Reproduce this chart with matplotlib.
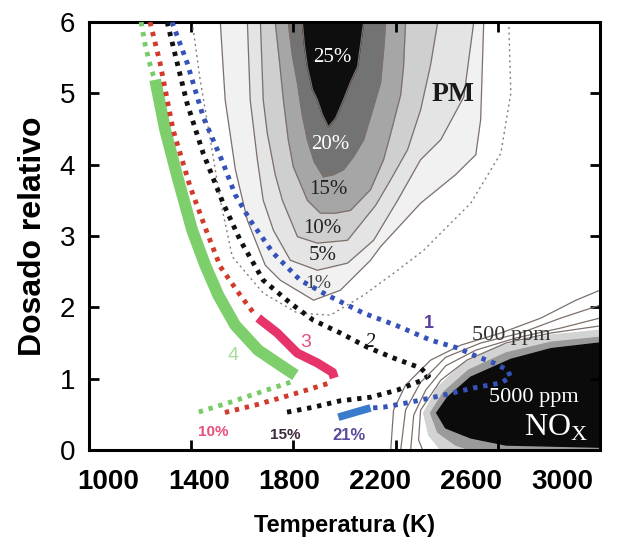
import numpy as np
import matplotlib.pyplot as plt

plt.rcParams['font.family'] = ['Liberation Sans', 'DejaVu Sans']

# --- contornos de PM (T en K, dosado relativo), abiertos por arriba (phi = 6)
pm1_T = [1514, 1533, 1573, 1620, 1690, 1749, 1879, 1984, 2102, 2141, 2298, 2435, 2514, 2533, 2545]
pm1_phi = [6.0, 4.91, 3.93, 3.22, 2.59, 2.38, 2.10, 2.24, 2.66, 2.85, 3.46, 3.86, 4.14, 4.63, 6.0]
pm5_T = [1620, 1631, 1659, 1682, 1722, 1788, 1894, 2012, 2114, 2208, 2298, 2377, 2467, 2506]
pm5_phi = [6.0, 4.91, 4.07, 3.50, 3.08, 2.66, 2.52, 2.62, 2.94, 3.50, 4.07, 4.35, 4.95, 6.0]
pm10_T = [1671, 1682, 1698, 1729, 1757, 1816, 1894, 2012, 2122, 2181, 2247, 2298, 2337, 2365]
pm10_phi = [6.0, 4.91, 4.44, 3.86, 3.50, 2.99, 2.90, 2.94, 3.43, 3.79, 4.21, 4.77, 5.40, 6.0]
pm15_T = [1729, 1745, 1761, 1780, 1800, 1855, 1906, 1965, 2024, 2102, 2153, 2181, 2220, 2231, 2239]
pm15_phi = [6.0, 5.47, 4.91, 4.35, 3.97, 3.50, 3.32, 3.32, 3.36, 3.65, 4.07, 4.44, 4.98, 5.37, 6.0]
pm20_T = [1780, 1796, 1816, 1835, 1855, 1882, 1918, 1957, 1996, 2035, 2075, 2110, 2141, 2153, 2161]
pm20_phi = [6.0, 5.54, 5.15, 4.70, 4.35, 4.04, 3.83, 3.86, 3.93, 4.11, 4.35, 4.77, 5.15, 5.61, 6.0]
pm25_T = [1835, 1843, 1855, 1875, 1894, 1914, 1937, 1965, 1996, 2024, 2051, 2063, 2075]
pm25_phi = [6.0, 5.68, 5.37, 5.05, 4.91, 4.70, 4.53, 4.65, 4.91, 5.16, 5.37, 5.68, 6.0]
pm_out_T = [1404, 1435, 1475, 1514, 1561, 1682, 1816, 1945, 2075, 2208, 2310, 2494, 2612, 2651, 2643]
pm_out_phi = [6.0, 5.19, 4.35, 3.50, 2.71, 2.20, 1.92, 1.89, 2.17, 2.52, 2.80, 3.46, 4.16, 5.0, 6.0]

# --- NOx
nox_light_T = [3000, 2808, 2612, 2463, 2365, 2310, 2330, 2377, 3000]
nox_light_phi = [1.68, 1.61, 1.46, 1.21, 0.88, 0.52, 0.21, 0.0, 0.0]
nox_mid_T = [3000, 2808, 2632, 2486, 2388, 2337, 2365, 2435, 2494, 3000]
nox_mid_phi = [1.58, 1.51, 1.36, 1.12, 0.81, 0.52, 0.25, 0.07, 0.0, 0.0]
nox_black_T = [3000, 2808, 2651, 2494, 2404, 2361, 2396, 2494, 2632, 3000]
nox_black_phi = [1.50, 1.42, 1.27, 1.02, 0.74, 0.52, 0.31, 0.17, 0.07, 0.04]
nox_lines = [
    ([3000, 2906, 2769, 2612, 2455, 2337, 2239, 2192, 2181],
     [2.24, 2.10, 1.85, 1.64, 1.47, 1.26, 0.91, 0.56, 0.0]),
    ([3000, 2847, 2690, 2533, 2396, 2298, 2239, 2220],
     [2.03, 1.85, 1.64, 1.50, 1.30, 0.95, 0.56, 0.0]),
    ([3000, 2847, 2671, 2514, 2396, 2318, 2271, 2259],
     [1.85, 1.71, 1.57, 1.40, 1.18, 0.84, 0.49, 0.0]),
    ([3000, 2808, 2632, 2479, 2377, 2298, 2290, 2306],
     [1.74, 1.64, 1.50, 1.26, 0.98, 0.56, 0.14, 0.0]),
]

# --- trayectorias
g_dot1_T = [1204, 1220, 1239, 1251, 1259]
g_dot1_phi = [6.0, 5.68, 5.40, 5.26, 5.19]
g_sol_T = [1259, 1298, 1349, 1404, 1455, 1506, 1572, 1662, 1749, 1808]
g_sol_phi = [5.19, 4.49, 3.79, 3.08, 2.59, 2.17, 1.75, 1.40, 1.19, 1.05]
g_dot2_T = [1788, 1670, 1553, 1427]
g_dot2_phi = [0.95, 0.81, 0.67, 0.53]

r_dot1_T = [1239, 1278, 1329, 1396, 1463, 1514, 1592, 1651]
r_dot1_phi = [6.0, 5.43, 4.49, 3.69, 3.04, 2.57, 2.17, 1.89]
r_sol_T = [1662, 1737, 1815, 1894, 1953, 1960]
r_sol_phi = [1.85, 1.64, 1.36, 1.22, 1.09, 1.01]
r_dot2_T = [1933, 1788, 1651, 1525]
r_dot2_phi = [0.93, 0.77, 0.63, 0.52]

k_T = [1306, 1384, 1447, 1525, 1592, 1682, 1788, 1878, 1984, 2090, 2192, 2298, 2329,
       2298, 2207, 2102, 1984, 1878, 1760]
k_phi = [6.0, 4.86, 4.16, 3.46, 2.94, 2.38, 2.06, 1.82, 1.64, 1.44, 1.29, 1.15, 1.04,
         0.97, 0.84, 0.74, 0.69, 0.60, 0.52]

b_dot_T = [1325, 1384, 1447, 1525, 1572, 1631, 1721, 1827, 1933, 2074, 2207, 2337, 2443,
           2513, 2584, 2639, 2650, 2611, 2505, 2388, 2258, 2152, 2109]
b_dot_phi = [6.0, 5.43, 4.67, 4.02, 3.58, 3.22, 2.76, 2.38, 2.17, 1.92, 1.74, 1.54, 1.43,
             1.32, 1.22, 1.12, 1.02, 0.94, 0.87, 0.77, 0.67, 0.60, 0.59]
b_sol_T = [2102, 2043, 1976]
b_sol_phi = [0.59, 0.53, 0.46]

xticks = [1000, 1400, 1800, 2200, 2600, 3000]
yticks = [0, 1, 2, 3, 4, 5, 6]

fig = plt.figure(figsize=(6.24, 5.39), dpi=100)
ax = fig.add_axes([0.1426, 0.1651, 0.8189, 0.7941])

# rellenos PM
edge = '#7d706b'
for T, phi, c in [(pm1_T, pm1_phi, '#f1f1f1'), (pm5_T, pm5_phi, '#e4e4e4'),
                  (pm10_T, pm10_phi, '#cfcfcf'), (pm15_T, pm15_phi, '#a6a6a6'),
                  (pm20_T, pm20_phi, '#737373'), (pm25_T, pm25_phi, '#0e0e0e')]:
    ax.fill(T, phi, color=c, zorder=1)
    ax.plot(T, phi, color=edge, lw=0.9, zorder=2)
ax.plot(pm_out_T, pm_out_phi, color='#8a7d78', lw=1.0, ls=(0, (1.5, 2.5)), zorder=2)

# NOx
ax.fill(nox_light_T, nox_light_phi, color='#d3d3d3', zorder=1)
ax.fill(nox_mid_T, nox_mid_phi, color='#9a9a9a', zorder=1)
ax.fill(nox_black_T, nox_black_phi, color='#0b0b0b', zorder=1)
for T, phi in nox_lines:
    ax.plot(T, phi, color=edge, lw=0.9, zorder=2)

# trayectorias
dots = (0, (0.9, 1.2))
ax.plot(g_dot1_T, g_dot1_phi, color='#78cc68', lw=3.5, ls=dots, zorder=4)
ax.plot(g_sol_T, g_sol_phi, color='#7dcf6c', lw=8.5, solid_capstyle='butt', zorder=4)
ax.plot(g_dot2_T, g_dot2_phi, color='#78cc68', lw=3.5, ls=dots, zorder=4)
ax.plot(r_dot1_T, r_dot1_phi, color='#d23a2c', lw=3.5, ls=dots, zorder=4)
ax.plot(r_sol_T, r_sol_phi, color='#e6336a', lw=6.5, solid_capstyle='butt', zorder=4)
ax.plot(r_dot2_T, r_dot2_phi, color='#d23a2c', lw=3.5, ls=dots, zorder=4)
ax.plot(k_T, k_phi, color='#111111', lw=3.5, ls=dots, zorder=4)
ax.plot(b_dot_T, b_dot_phi, color='#3552b8', lw=3.5, ls=dots, zorder=4)
ax.plot(b_sol_T, b_sol_phi, color='#3a7ccc', lw=5.5, solid_capstyle='butt', zorder=4)

# textos
serif = 'Liberation Serif'
ax.text(1953, 5.50, '25%', color='white', fontsize=15, family=serif, ha='center', va='center', zorder=5)
ax.text(1945, 4.28, '20%', color='white', fontsize=15, family=serif, ha='center', va='center', zorder=5)
ax.text(1937, 3.65, '15%', color='#222222', fontsize=15, family=serif, ha='center', va='center', zorder=5)
ax.text(1914, 3.11, '10%', color='#222222', fontsize=15, family=serif, ha='center', va='center', zorder=5)
ax.text(1914, 2.73, '5%', color='#222222', fontsize=15, family=serif, ha='center', va='center', zorder=5)
ax.text(1898, 2.34, '1%', color='#444444', fontsize=14, family=serif, ha='center', va='center', zorder=3)
ax.text(2424, 4.98, 'PM', color='#1a1a1a', fontsize=20, family=serif, fontweight='bold',
        ha='center', va='center', zorder=5)
ax.text(2651, 1.60, '500 ppm', color='#333333', fontsize=16, family=serif, ha='center', va='center', zorder=5)
ax.text(2741, 0.73, '5000 ppm', color='white', fontsize=16, family=serif, ha='center', va='center', zorder=5)
ax.text(2828, 0.31, r'NO$_{\mathregular{X}}$', color='white', fontsize=23, family=serif,
        ha='center', va='center', zorder=5)
ax.text(2329, 1.77, '1', color='#5a3f9c', fontsize=13, fontweight='bold', ha='center', va='center', zorder=5)
ax.text(2102, 1.51, '2', color='#111111', fontsize=15, family=serif, style='italic',
        ha='center', va='center', zorder=5)
ax.text(1847, 1.51, '3', color='#e8507a', fontsize=14, ha='center', va='center', zorder=5)
ax.text(1565, 1.33, '4', color='#a6dc98', fontsize=14, ha='center', va='center', zorder=5)
ax.text(1486, 0.25, '10%', color='#e8507a', fontsize=11, fontweight='bold', ha='center', va='center', zorder=5)
ax.text(1769, 0.21, '15%', color='#3a2a3c', fontsize=11, fontweight='bold', ha='center', va='center', zorder=5)
ax.text(2016, 0.21, '21%', color='#5b4a9c', fontsize=12, fontweight='bold', ha='center', va='center', zorder=5)

ax.set_xlim(1000, 3000)
ax.set_ylim(0, 6)
ax.set_xticks(xticks)
ax.set_yticks(yticks)
ax.tick_params(direction='in', length=7, width=2, top=True, right=True,
               labelbottom=False, labelsize=20, pad=10)
for s in ax.spines.values():
    s.set_linewidth(2.2)
ax.set_ylabel('Dosado relativo', fontsize=23, fontweight='bold', labelpad=8)

# etiquetas del eje x (algo comprimidas respecto a las marcas, como en la figura)
sec = ax.secondary_xaxis('bottom', functions=(lambda x: 1000 + (x - 1074.4) / 0.8885,
                                              lambda s: 1074.4 + (s - 1000) * 0.8885))
sec.set_xticks(xticks)
sec.tick_params(length=0, labelsize=20, pad=14)
sec.spines['bottom'].set_visible(False)
for lab in sec.get_xticklabels():
    lab.set_fontweight('bold')
sec.set_xlabel('Temperatura (K)', fontsize=17, fontweight='bold', labelpad=13)

fig.savefig('out.png', dpi=100, facecolor='white')
